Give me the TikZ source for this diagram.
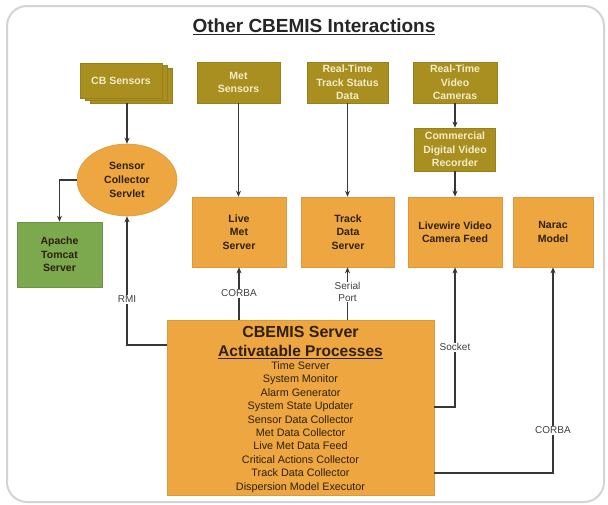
\documentclass[tikz,border=0pt]{standalone}
\usepackage{fontspec}
\setmainfont{Liberation Sans}
\usetikzlibrary{shapes.geometric,arrows.meta}
\definecolor{cbolive}{RGB}{168,143,32}
\definecolor{cbcream}{RGB}{244,236,200}
\definecolor{cborange}{RGB}{238,166,64}
\definecolor{cbgreen}{RGB}{124,168,78}
\definecolor{linegray}{RGB}{55,55,55}
\definecolor{framegray}{RGB}{212,212,212}
\definecolor{textdark}{RGB}{45,32,12}
\tikzset{
  box/.style={rectangle, inner sep=1pt, align=center, line width=0.6pt},
  obox/.style={box, fill=cbolive, draw=cbolive!90!black, text=cbcream,
    font=\bfseries\fontsize{10.5}{13.3}\selectfont},
  rbox/.style={box, fill=cborange, draw=cborange!92!black, text=textdark,
    font=\bfseries\fontsize{10.5}{13.3}\selectfont},
  gbox/.style={box, fill=cbgreen, draw=cbgreen!88!black, text=textdark,
    font=\bfseries\fontsize{10.5}{13.3}\selectfont},
  conn/.style={draw=linegray, line width=1.5pt, -{Stealth[length=6pt,width=5pt]}},
  lab/.style={fill=white, inner sep=1pt, align=center, text=black!75,
    font=\fontsize{10}{11.5}\selectfont},
}
\begin{document}
\begin{tikzpicture}[x=1pt,y=-1pt]
\useasboundingbox (0,0) rectangle (608,504);
\fill[white] (0,0) rectangle (608,504);
\draw[framegray, line width=2pt, rounded corners=20pt] (7,6) rectangle (604,502);

\node[font=\bfseries\fontsize{19}{21}\selectfont, text=black!85] (title) at (314,27) {\underline{Other CBEMIS Interactions}};

% top sources
\node[obox, minimum width=82pt, minimum height=35pt] (cbb) at (131,85.5) {};
\node[obox, minimum width=82pt, minimum height=35pt] (cbm) at (126,83) {};
\node[obox, minimum width=82pt, minimum height=35pt] (cb) at (121,80.5) {CB Sensors};
\node[obox, minimum width=83pt, minimum height=41pt] (met) at (238.5,82.5) {Met\\Sensors};
\node[obox, minimum width=81pt, minimum height=41pt] (trk) at (347.5,82.5) {Real-Time\\Track Status\\Data};
\node[obox, minimum width=84pt, minimum height=41pt] (vid) at (455,82.5) {Real-Time\\Video\\Cameras};
\node[obox, minimum width=81pt, minimum height=43pt] (dvr) at (455,149.5) {Commercial\\Digital Video\\Recorder};

% middle row
\node[ellipse, fill=cborange, draw=cborange!92!black, line width=0.6pt, inner sep=0pt,
      minimum width=100pt, minimum height=72pt, align=center, text=textdark,
      font=\bfseries\fontsize{10.5}{14}\selectfont] (ell) at (127,180) {Sensor\\Collector\\Servlet};
\node[gbox, minimum width=85pt, minimum height=65pt] (apache) at (59.5,254.5) {Apache\\Tomcat\\Server};
\node[rbox, minimum width=94pt, minimum height=70pt] (lms) at (239,232) {Live\\Met\\Server};
\node[rbox, minimum width=93pt, minimum height=70pt] (tds) at (348,232) {Track\\Data\\Server};
\node[rbox, minimum width=94pt, minimum height=70pt] (lvf) at (455,232) {Livewire Video\\Camera Feed};
\node[rbox, minimum width=80pt, minimum height=70pt] (nar) at (553,232) {Narac\\Model};

% server
\node[box, fill=cborange, draw=cborange!92!black, minimum width=267pt, minimum height=175pt] (srv) at (300.5,407.5) {};
\node[text=textdark, font=\bfseries\fontsize{16}{18}\selectfont, inner sep=0pt] (st) at (300.5,332) {CBEMIS Server};
\node[text=textdark, font=\bfseries\fontsize{15.5}{18}\selectfont, inner sep=0pt] (sa) at (300.5,352) {\underline{Activatable Processes}};
\node[text=textdark, align=center, inner sep=0pt, font=\fontsize{10.8}{13.44}\selectfont] (sl) at (300.5,427) {Time Server\\System Monitor\\Alarm Generator\\System State Updater\\Sensor Data Collector\\Met Data Collector\\Live Met Data Feed\\Critical Actions Collector\\Track Data Collector\\Dispersion Model Executor};

% helper coordinates for connector rows
\coordinate (yRMI) at (0,345);
\coordinate (ySock) at (0,407);
\coordinate (yCor) at (0,473);

% connectors
\draw[conn] (ell.north |- cbb.south) -- (ell.north);
\draw[conn] (met.south) -- (met.south |- lms.north);
\draw[conn] (trk.south) -- (trk.south |- tds.north);
\draw[conn] (vid.south) -- (dvr.north);
\draw[conn] (dvr.south) -- (lvf.north);
\draw[conn] (ell.west) -| (apache.north);

\draw[conn] (srv.west |- yRMI) -| (ell.south) node[lab, pos=0.678] {RMI};
\draw[conn] (lms.south |- srv.north) -- (lms.south) node[lab, pos=0.5] {CORBA};
\draw[conn] (trk.south |- srv.north) -- (trk.south |- tds.south) node[lab, pos=0.53] {Serial\\Port};
\draw[conn] (srv.east |- ySock) -| (lvf.south) node[lab, pos=0.714] {Socket};
\draw[conn] (srv.east |- yCor) -| (nar.south) node[lab, pos=0.604] {CORBA};
\end{tikzpicture}
\end{document}
